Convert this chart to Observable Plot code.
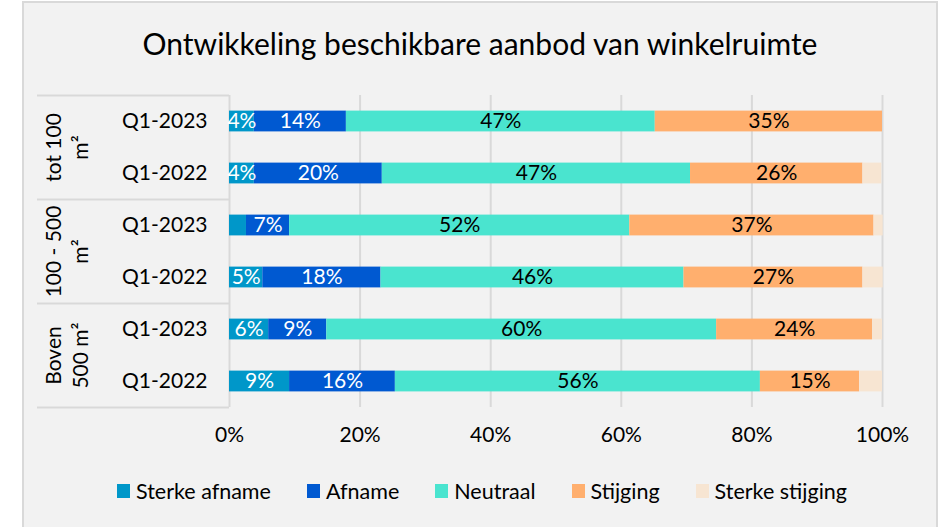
<!DOCTYPE html>
<html><head><meta charset="utf-8">
<script src="https://cdn.jsdelivr.net/npm/d3@7"></script>
<script src="https://cdn.jsdelivr.net/npm/@observablehq/plot@0.6"></script>
<style>
body{margin:0;background:#fff;}
#wrap{position:relative;width:944px;height:527px;overflow:hidden;font-family:Lato,sans-serif;color:#000;}
#frame{position:absolute;left:22px;top:1px;width:916px;height:560px;background:#f2f2f2;border:2px solid #d9d9d9;box-sizing:border-box}
#title{position:absolute;left:22px;width:916px;top:25px;text-align:center;font-size:30px;line-height:36px}
#chart{position:absolute;left:0;top:0}
#legend{position:absolute;left:30px;width:904px;top:478px;display:flex;justify-content:center;gap:36px;font-size:21.5px;line-height:26px}
.item{display:flex;align-items:center;gap:6px}
.sw{width:13px;height:14px;display:inline-block}
</style></head><body>
<div id="wrap"><div id="frame"></div><div id="title">Ontwikkeling beschikbare aanbod van winkelruimte</div><div id="chart"></div><div id="legend"></div></div>
<script>
const groups = ["tot 100\nm²", "100 - 500\nm²", "Boven\n500 m²"];
const periods = ["Q1-2023", "Q1-2022"];
const series = ["Sterke afname", "Afname", "Neutraal", "Stijging", "Sterke stijging"];
const colors = ["#0097c9", "#0059d1", "#4ae4cf", "#ffaf6e", "#f7e5d2"];
const sterkeAfname   = [3.8, 3.8, 2.6, 5.1, 6.0, 9.2];
const afname         = [14.1, 19.6, 6.6, 18.1, 8.9, 16.2];
const neutraal       = [47.3, 47.2, 52.1, 46.4, 59.7, 55.9];
const stijging       = [34.8, 26.4, 37.4, 27.4, 23.9, 15.2];
const sterkeStijging = [0, 2.9, 1.4, 3.1, 1.5, 3.5];
const xTicks = [0, 20, 40, 60, 80, 100];

const W = 944, H = 527, ML = 229, MR = 62, MT = 95, MB = 120;
const seriesValues = [sterkeAfname, afname, neutraal, stijging, sterkeStijging];
const whiteLabelSeries = ["Sterke afname", "Afname"];
const rows = groups.flatMap(g => periods.map(p => ({group: g, period: p})));

const segs = [];
rows.forEach((r, i) => {
  let acc = 0;
  series.forEach((s, si) => {
    const v = seriesValues[si][i];
    segs.push({row: i, series: s, value: v, x1: acc, x2: acc + v});
    acc += v;
  });
});
const labeled = segs.filter(d => d.value >= 3.5 && d.series !== "Sterke stijging");

const plot = Plot.plot({
  width: W, height: H,
  marginLeft: ML, marginRight: MR, marginTop: MT, marginBottom: MB,
  style: {background: "transparent", fontFamily: "Lato, sans-serif", color: "#000"},
  x: {domain: [0, 100]},
  y: {domain: [0, rows.length], reverse: true},
  color: {domain: series, range: colors},
  marks: [
    Plot.ruleX(xTicks, {stroke: "#d9d9d9", strokeWidth: 2}),
    Plot.ruleY(d3.range(0, rows.length + 1, 2), {x1: 0, x2: 0, insetLeft: -192, stroke: "#d9d9d9", strokeWidth: 2}),
    Plot.rect(segs, {x1: "x1", x2: "x2", y1: d => d.row + 0.3, y2: d => d.row + 0.7, fill: "series"}),
    Plot.text(labeled.filter(d => whiteLabelSeries.includes(d.series)), {x: d => (d.x1 + d.x2) / 2, y: d => d.row + 0.5, text: d => Math.round(d.value) + "%", fill: "white", fontSize: 21}),
    Plot.text(labeled.filter(d => !whiteLabelSeries.includes(d.series)), {x: d => (d.x1 + d.x2) / 2, y: d => d.row + 0.5, text: d => Math.round(d.value) + "%", fill: "black", fontSize: 21}),
    Plot.axisX(xTicks, {tickSize: 0, tickPadding: 20, tickFormat: d => d + "%", fontSize: 21}),
    Plot.axisY(rows.map((r, i) => i + 0.5), {tickSize: 0, tickPadding: 22, tickFormat: d => rows[Math.floor(d)].period, fontSize: 21}),
    Plot.text(groups, {x: 0, y: (d, i) => i * 2 + 1, dx: -164, rotate: -90, text: d => d, lineHeight: 1.3, fontSize: 21})
  ]
});
document.getElementById("chart").appendChild(plot);

const legend = document.getElementById("legend");
series.forEach((s, i) => {
  const it = document.createElement("div");
  it.className = "item";
  it.innerHTML = `<span class="sw" style="background:${colors[i]}"></span><span>${s}</span>`;
  legend.appendChild(it);
});
</script>
</body></html>
